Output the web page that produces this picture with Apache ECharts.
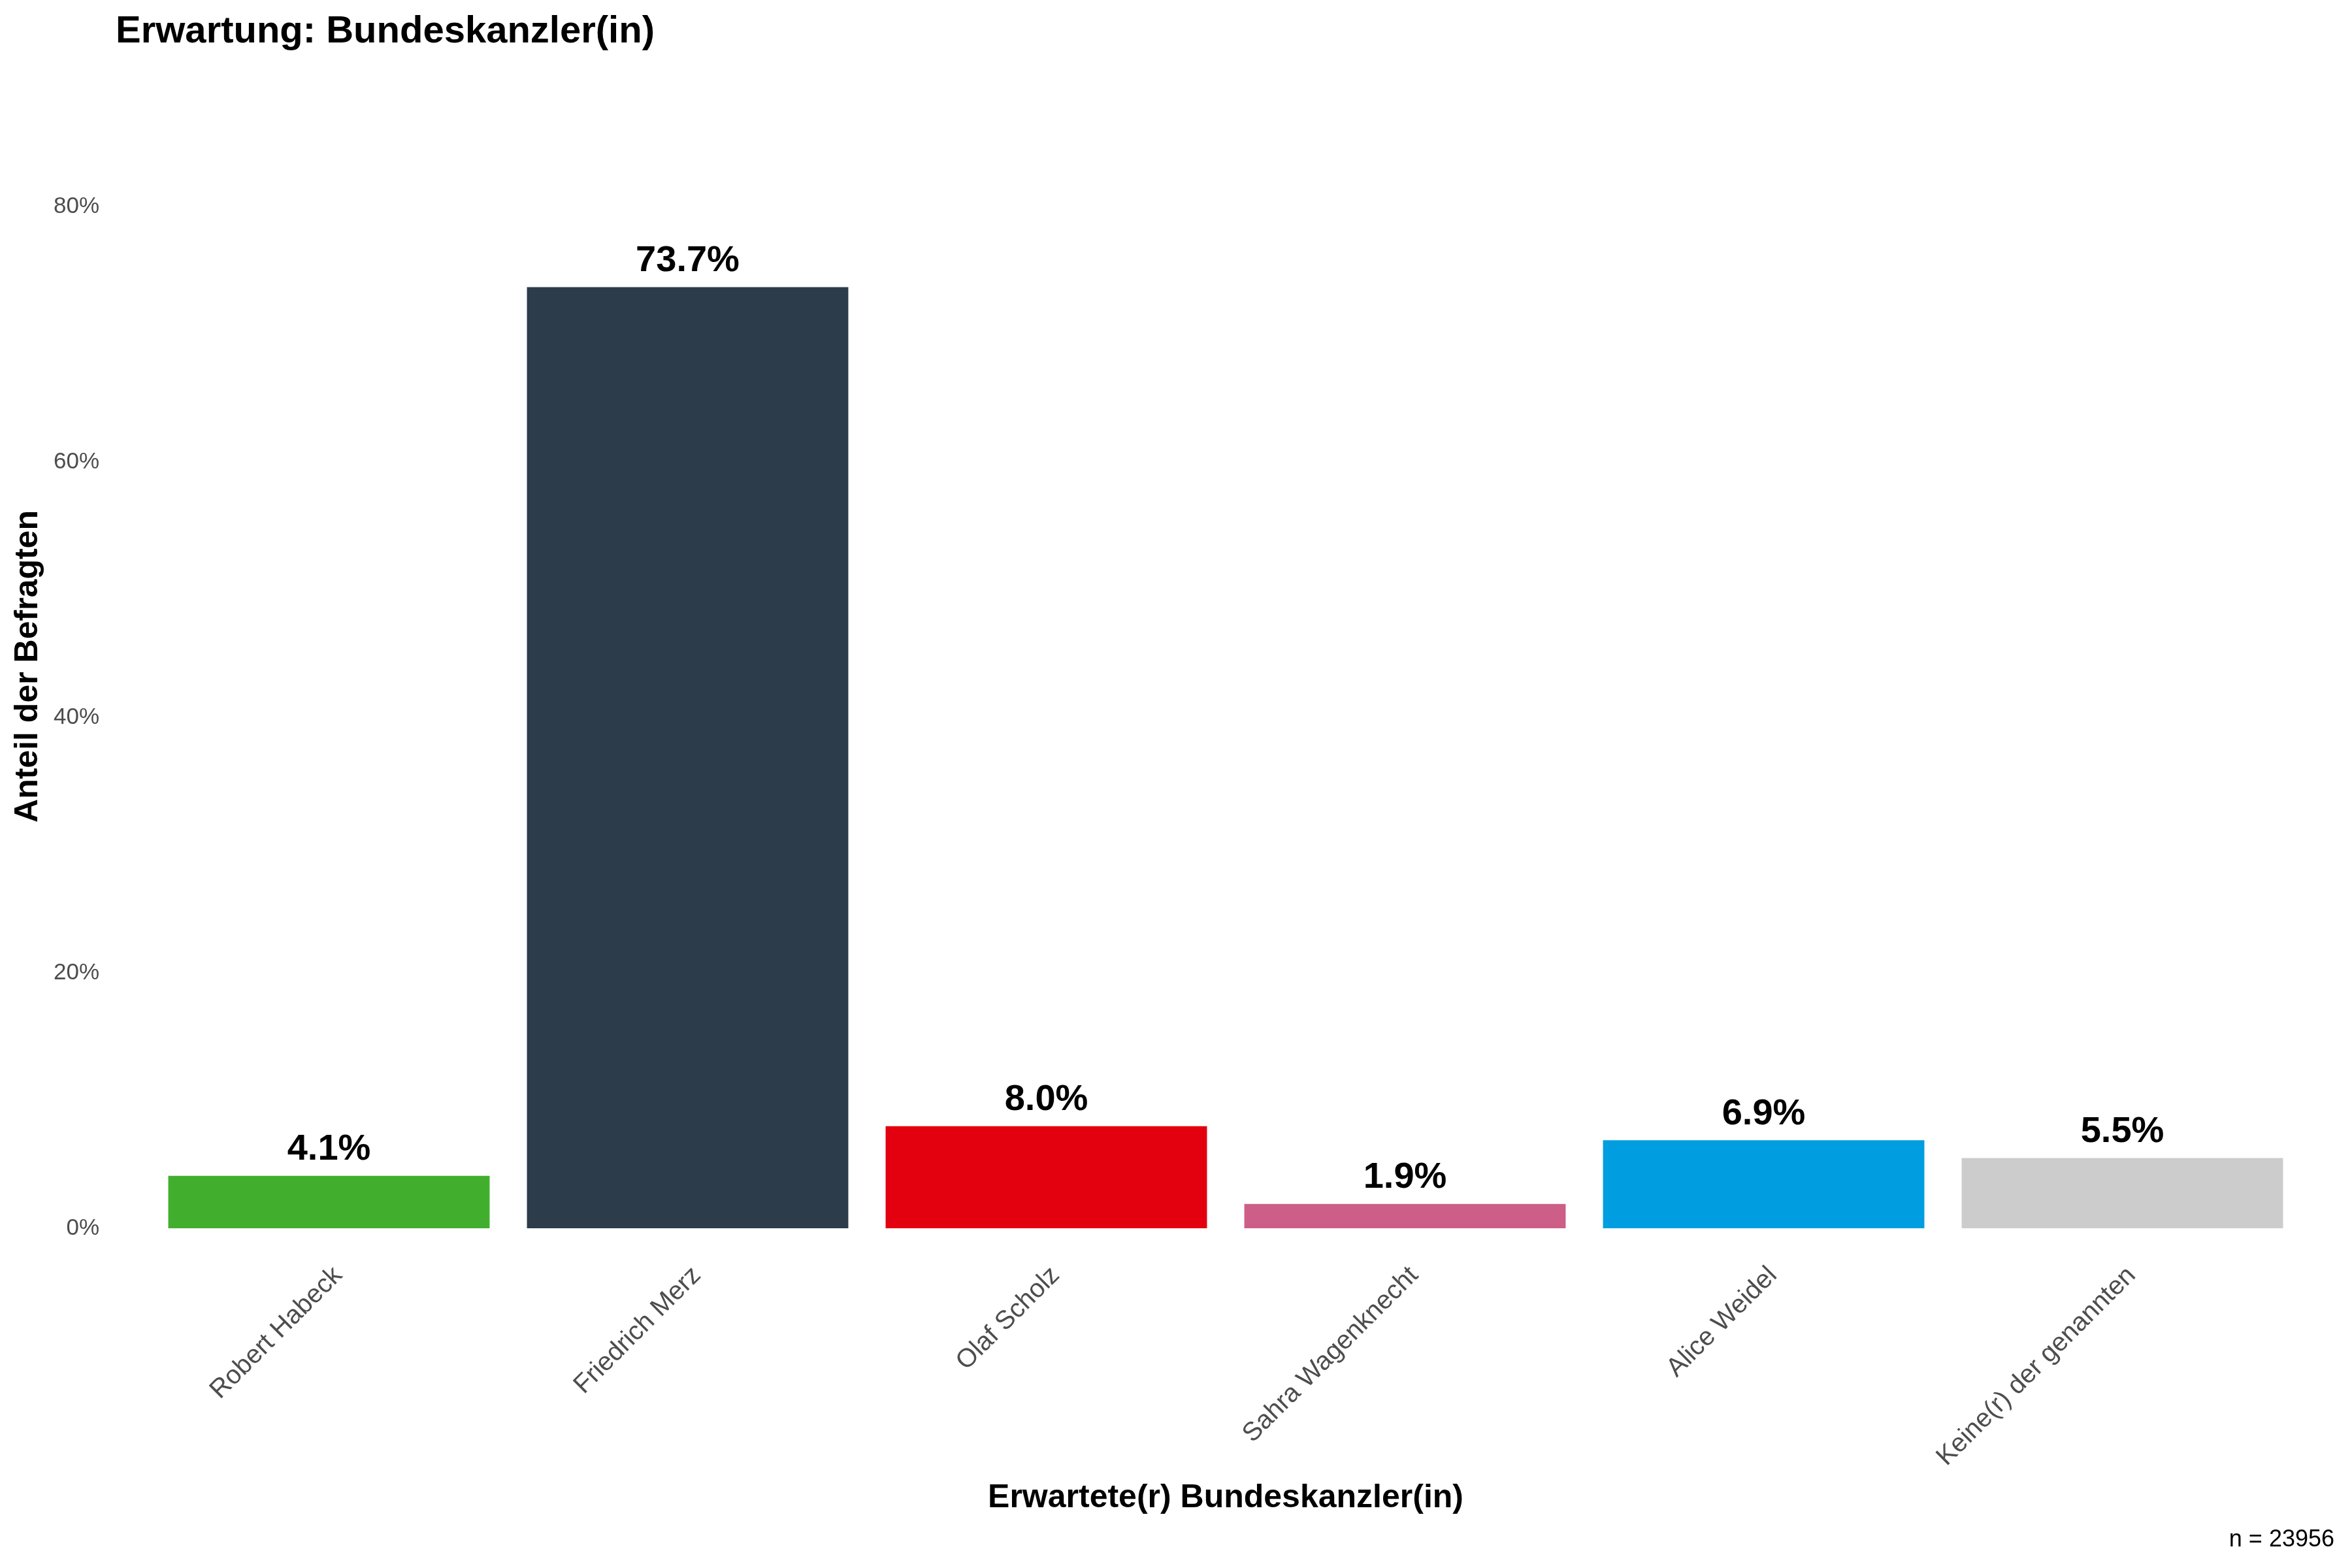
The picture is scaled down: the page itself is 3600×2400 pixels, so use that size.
<!DOCTYPE html>
<html>
<head>
<meta charset="utf-8">
<script src="https://cdn.jsdelivr.net/npm/echarts@6/dist/echarts.min.js"></script>
<style>
html,body{margin:0;padding:0;background:#fff;}
#chart{width:3600px;height:2400px;}
</style>
</head>
<body>
<div id="chart"></div>
<script>
const categories = ["Robert Habeck", "Friedrich Merz", "Olaf Scholz", "Sahra Wagenknecht", "Alice Weidel", "Keine(r) der genannten"];
const values = [4.1, 73.7, 8.0, 1.9, 6.9, 5.5];
const barColors = ["#41AF2D", "#2D3C4B", "#E3000F", "#CD5E88", "#009EE0", "#CCCCCC"];
const yTicks = [0, 20, 40, 60, 80];
const yMax = 88;

const FONT = '"Liberation Sans", Arial, Helvetica, sans-serif';
const chart = echarts.init(document.getElementById('chart'), null, {renderer: 'canvas'});
chart.setOption({
  backgroundColor: '#ffffff',
  animation: false,
  textStyle: {fontFamily: FONT},
  title: [
    {text: 'Erwartung: Bundeskanzler(in)', left: 172, top: 15,
     textStyle: {fontFamily: FONT, fontSize: 58, fontWeight: 'bold', color: '#000'}},
    {text: 'n = 23956', right: 22, top: 2334,
     textStyle: {fontFamily: FONT, fontSize: 36, fontWeight: 'normal', color: '#000'}}
  ],
  grid: {left: 229, right: 77, top: 160, bottom: 520, containLabel: false},
  xAxis: {
    type: 'category',
    data: categories,
    axisLine: {show: false},
    axisTick: {show: false},
    splitLine: {show: false},
    axisLabel: {rotate: 45, color: '#4D4D4D', fontSize: 40, fontFamily: FONT, margin: 52, interval: 0,
      verticalAlign: 'top'},
    name: 'Erwartete(r) Bundeskanzler(in)',
    nameLocation: 'middle',
    nameGap: 388,
    nameTextStyle: {fontFamily: FONT, fontSize: 50, fontWeight: 'bold', color: '#000'}
  },
  yAxis: {
    type: 'value',
    min: 0,
    max: yMax,
    interval: 20,
    axisLine: {show: false},
    axisTick: {show: false},
    splitLine: {show: false},
    axisLabel: {color: '#4D4D4D', fontSize: 35, fontFamily: FONT, margin: 77, showMaxLabel: false,
      formatter: v => yTicks.includes(v) ? v + '%' : ''},
    name: 'Anteil der Befragten',
    nameLocation: 'middle',
    nameGap: 161,
    nameTextStyle: {fontFamily: FONT, fontSize: 50, fontWeight: 'bold', color: '#000'}
  },
  series: [{
    type: 'bar',
    data: values.map((v, i) => ({value: v, itemStyle: {color: barColors[i]}})),
    barWidth: '89.6%',
    label: {show: true, position: 'top', distance: 12, fontFamily: FONT, fontSize: 56,
      fontWeight: 'bold', color: '#000', formatter: p => p.value.toFixed(1) + '%'}
  }]
});
</script>
</body>
</html>
